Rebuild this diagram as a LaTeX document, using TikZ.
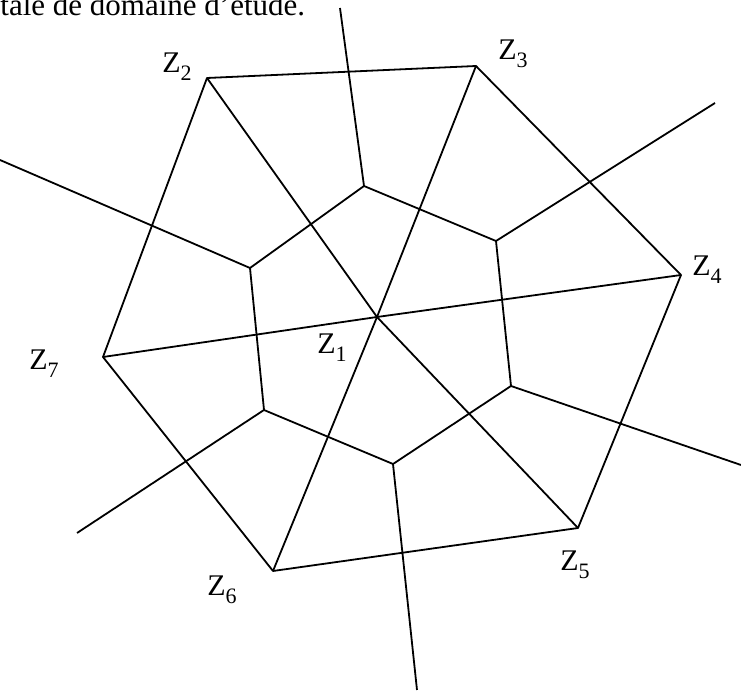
\documentclass[tikz,border=0pt]{standalone}
\usepackage{fontspec}
\setmainfont{Liberation Serif}
\newcommand{\zsite}[1]{Z\raisebox{-0.27em}{\fontsize{11}{12}\selectfont #1}}
\begin{document}
\begin{tikzpicture}[x=0.5pt,y=-0.5pt,
  edge/.style={line width=0.9pt, line join=round},
  lbl/.style={font=\fontsize{15}{18}\selectfont, inner sep=0pt}]
\useasboundingbox (0,0) rectangle (741,695);
% sites
\coordinate (z1) at (377,317);
\coordinate (z2) at (207,78);
\coordinate (z3) at (476,66);
\coordinate (z4) at (681,275);
\coordinate (z5) at (578,528);
\coordinate (z6) at (273,571);
\coordinate (z7) at (103,357);
% Voronoi vertices
\coordinate (a) at (364,186);
\coordinate (b) at (496,241);
\coordinate (c) at (511,386);
\coordinate (d) at (393,464);
\coordinate (e) at (264,410);
\coordinate (f) at (250,268);
% free ends
\coordinate (ea) at (340,8);
\coordinate (eb) at (715,103);
\coordinate (ec) at (741,465);
\coordinate (ed) at (417,690);
\coordinate (ee) at (77,533);
\coordinate (ef) at (0,160);
% outer hexagon
\draw[edge] (z2) -- (z3) -- (z4) -- (z5) -- (z6) -- (z7) -- cycle;
% spokes
\foreach \p in {z2,z3,z4,z5,z6,z7} \draw[edge] (z1) -- (\p);
% inner cell
\draw[edge] (a) -- (b) -- (c) -- (d) -- (e) -- (f) -- cycle;
% rays
\draw[edge] (a) -- (ea);
\draw[edge] (b) -- (eb);
\draw[edge] (c) -- (ec);
\draw[edge] (d) -- (ed);
\draw[edge] (e) -- (ee);
\draw[edge] (f) -- (ef);
% labels
\node[lbl] (l1) at (332,348) {\zsite{1}};
\node[lbl] (l2) at (177,67) {\zsite{2}};
\node[lbl] (l3) at (513,54) {\zsite{3}};
\node[lbl] (l4) at (707,270) {\zsite{4}};
\node[lbl] (l5) at (575,565) {\zsite{5}};
\node[lbl] (l6) at (222,590) {\zsite{6}};
\node[lbl] (l7) at (44,364) {\zsite{7}};
\node[lbl, font=\fontsize{15.5}{18}\selectfont, anchor=base west] (top) at (0,16) {tale de domaine d'étude.};
\end{tikzpicture}
\end{document}
